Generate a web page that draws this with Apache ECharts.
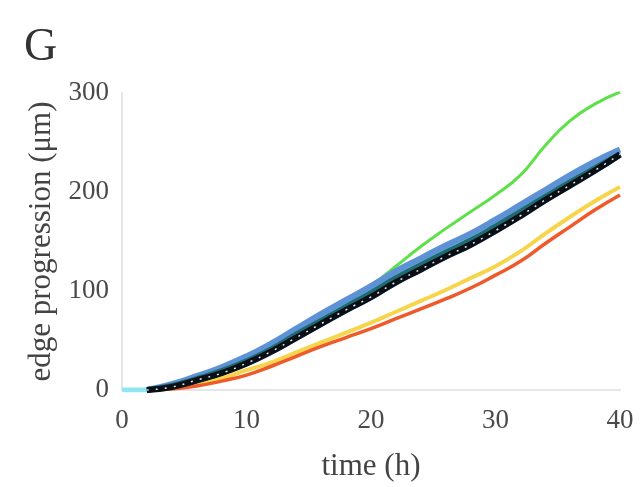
<!DOCTYPE html>
<html>
<head>
<meta charset="utf-8">
<script src="https://cdn.jsdelivr.net/npm/echarts@6/dist/echarts.min.js"></script>
<style>html,body{margin:0;padding:0;background:#fff;}#c{width:642px;height:487px;}</style>
</head>
<body>
<div id="c"></div>
<script>
const times = [2,4,6,8,10,12,14,16,18,20,22,24,26,28,30,32,34,36,38,40];
const cyanTimes = [0,2,4,6,8,10,12,14,16,18,20,22,24,26,28,30,32,34,36,38,40];
const yellow = [0,2,6,12,20,28,38,48,58,68,79,90,101,113,125,140,158,175,191,205];
const orange = [0,1,4,9,15,24,34,44,53,62,72,82,92,103,116,130,148,165,182,197];
const green  = [0,4,11,19,29,41,56,72,88,105,125,145,163,180,197,217,247,272,289,301];
const cyan   = [0,0,5,13,22,32,45,60,74,88,101,116,129,141,153,167,182,197,212,226,240];
const blue   = [0,6,14,23,34,47,62,77,91,105,120,133,146,158,172,187,202,217,231,243];
const teal   = [0,4,11,19,29,41,56,70,84,98,113,126,139,151,165,180,195,210,224,238];
const navy   = [0,3,9,17,26,38,52,66,80,93,108,121,134,146,160,175,191,206,221,237];
const black  = [0,3,10,17,27,39,53,67,81,94,109,122,135,147,161,176,192,207,222,238];
const xTicks = [0,10,20,30,40];
const yTicks = [0,100,200,300];

function pairs(ts, vs){ return ts.map((t,i)=>[t, vs[i]]); }
function line(name, ts, vs, color, width, extra){
  return Object.assign({
    name, type:'line', data: pairs(ts, vs), smooth: true, symbol:'none',
    lineStyle:{color, width}, itemStyle:{color}, silent:true, z:2
  }, extra||{});
}
const font = 'Liberation Serif';
const chart = echarts.init(document.getElementById('c'));
chart.setOption({
  animation:false,
  backgroundColor:'#fff',
  graphic:[{type:'text', left:24, top:25, style:{text:'G', font:'46px "Liberation Serif"', fill:'#333'}}],
  grid:{left:122, right:22, top:93, bottom:97},
  xAxis:{
    type:'value', min:xTicks[0], max:xTicks[xTicks.length-1], interval:10, offset:13,
    name:'time (h)', nameLocation:'middle', nameGap:48,
    nameTextStyle:{fontFamily:font, fontSize:31, color:'#444'},
    axisLine:{lineStyle:{color:'#e6e6e6', width:2}}, axisTick:{show:false}, splitLine:{show:false},
    axisLabel:{fontFamily:font, fontSize:27, color:'#4a4a4a', margin:4}
  },
  yAxis:{
    type:'value', min:yTicks[0], max:yTicks[yTicks.length-1], interval:100,
    name:'edge progression (\u03bcm)', nameLocation:'middle', nameGap:60, nameRotate:90,
    nameTextStyle:{fontFamily:font, fontSize:31, color:'#444'},
    axisLine:{show:true, lineStyle:{color:'#e6e6e6', width:2}}, axisTick:{show:false}, splitLine:{show:false},
    axisLabel:{fontFamily:font, fontSize:27, color:'#4a4a4a', margin:13}
  },
  series:[
    line('yellow', times, yellow, '#f7d54a', 4),
    line('orange', times, orange, '#ee5a2a', 3.5),
    line('green', times, green, '#5fe04a', 3),
    line('cyan', cyanTimes, cyan, '#8fe6ee', 5),
    line('blue', times, blue, '#5e92d6', 6),
    line('teal', times, teal, '#1f6a74', 6),
    line('navy', times, navy, '#14305c', 5),
    line('black', times, black, '#0a0f14', 6),
    line('black dots', times, black, '#ffffff', 1.5, {lineStyle:{color:'#dfe8ee', width:1.5, type:[2,7]}, z:3})
  ]
});
</script>
</body>
</html>
